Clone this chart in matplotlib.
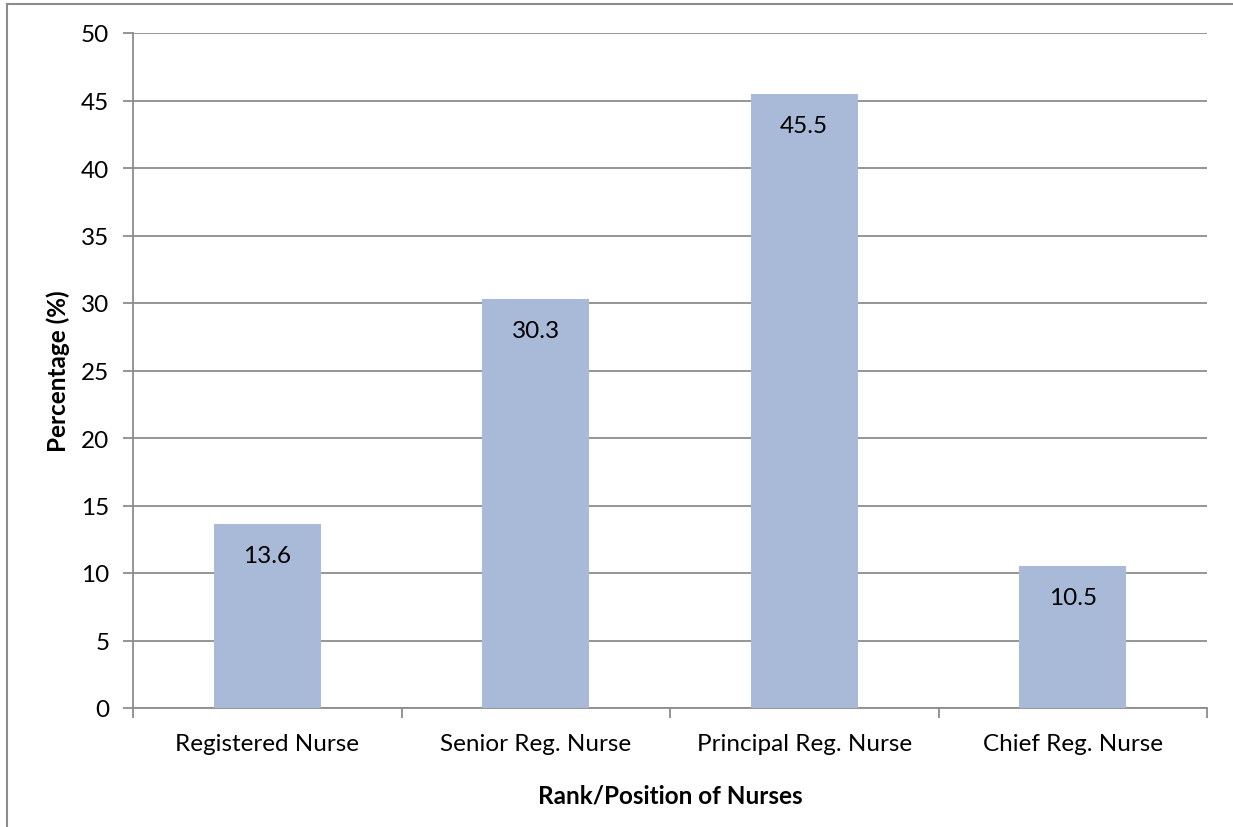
import matplotlib.pyplot as plt
import numpy as np
from matplotlib.lines import Line2D

# nurse rank distribution
ranks = ['Registered Nurse', 'Senior Reg. Nurse', 'Principal Reg. Nurse', 'Chief Reg. Nurse']
percent = [13.6, 30.3, 45.5, 10.5]
yticks = [0, 5, 10, 15, 20, 25, 30, 35, 40, 45, 50]

plt.rcParams['font.family'] = ['Lato', 'DejaVu Sans']

W, H = 1233, 828
fs = 17.5
fig = plt.figure(figsize=(W / 100, H / 100), dpi=100)
ax = fig.add_axes([133 / W, 1 - 709 / H, (1207 - 133) / W, (709 - 34) / H])

grid_col = '#8c8c8c'
x = np.arange(len(ranks))
bars = ax.bar(x, percent, width=0.4, color='#a9b9d8', zorder=3)

for b, v in zip(bars, percent):
    ax.annotate(f'{v}', (b.get_x() + b.get_width() / 2, v), xytext=(0, -15),
                textcoords='offset points', ha='center', va='top', fontsize=fs, zorder=4)

ax.set_xlim(-0.5, len(ranks) - 0.5)
ax.set_ylim(0, 50)
ax.set_yticks(yticks)
ax.yaxis.grid(True, color=grid_col, linewidth=1.3, zorder=0)
ax.set_axisbelow(True)

# category labels centred, ticks on category boundaries
ax.set_xticks(x)
ax.set_xticklabels(ranks, fontsize=fs)
ax.set_xticks(np.arange(len(ranks) + 1) - 0.5, minor=True)
ax.tick_params(axis='x', which='major', length=0, pad=18)
ax.tick_params(axis='x', which='minor', length=7, width=1.3, color=grid_col, direction='out')
ax.tick_params(axis='y', length=7, width=1.3, color=grid_col, labelsize=fs, pad=10)

for s in ['top', 'right']:
    ax.spines[s].set_visible(False)
for s in ['left', 'bottom']:
    ax.spines[s].set_color(grid_col)
    ax.spines[s].set_linewidth(1.3)

ax.set_ylabel('Percentage (%)', fontsize=fs, fontweight='bold', labelpad=8)
ax.set_xlabel('Rank/Position of Nurses', fontsize=fs, fontweight='bold', labelpad=21)

# outer chart frame (top and left edges)
fx, fy = 6.5 / W, 1 - 4.5 / H
fig.add_artist(Line2D([fx, 1], [fy, fy], transform=fig.transFigure, color=grid_col, lw=1.5))
fig.add_artist(Line2D([fx, fx], [0, fy], transform=fig.transFigure, color=grid_col, lw=1.5))

fig.savefig('out.png', dpi=100)
